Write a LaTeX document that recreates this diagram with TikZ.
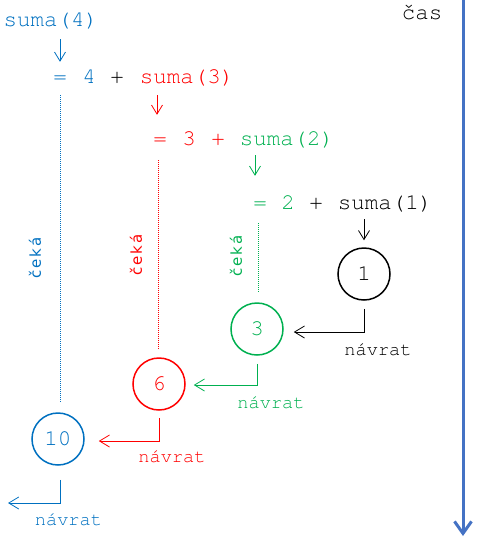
\documentclass[tikz,border=0pt]{standalone}
\usepackage{fontspec}
\newfontfamily\cour{texgyrecursor-regular.otf}
\newfontfamily\ceka{DejaVu Sans}[LetterSpace=12]
\usetikzlibrary{arrows.meta}
\definecolor{cblue}{HTML}{0070C0}
\definecolor{cred}{HTML}{FF0000}
\definecolor{cgreen}{HTML}{00B050}
\definecolor{taxis}{HTML}{4472C4}
\begin{document}
\begin{tikzpicture}[x=1pt,y=-1pt,
  code/.style={font=\cour\fontsize{22.5}{26}\selectfont, anchor=base, inner sep=0pt, text height=16pt, text depth=4pt},
  ret/.style={font=\cour\fontsize{18.7}{22}\selectfont, anchor=base, inner sep=0pt},
  num/.style={circle, draw, line width=1.5pt, minimum size=52pt, inner sep=0pt, font=\cour\fontsize{22.5}{26}\selectfont},
  wait/.style={font=\ceka\fontsize{15}{17}\selectfont, rotate=90, inner sep=0pt},
  call/.style={-{Straight Barb[length=9pt,width=11pt]}, line width=0.8pt},
  back/.style={-{Straight Barb[length=10pt,width=12pt]}, line width=0.8pt},
  waitline/.style={line width=0.8pt, dash pattern=on 1pt off 1pt},
]
\useasboundingbox (0,0) rectangle (482,542);
% time axis
\coordinate (t0) at (463,0);
\coordinate (t1) at (463,536);
\draw[taxis, line width=3pt, -{Straight Barb[length=12pt,width=17pt]}] (t0) -- (t1);
\node[code] (cas) at (422,19) {čas};
% expressions
\node[code, cblue] (s4) at (51,26) {suma(4)};
\node[code, cblue] (e2) at (60,83) {=};
\node[code, cblue] (n4) at (89,83) {4};
\node[code] (p2) at (117,83) {+};
\node[code, cred] (s3) at (187,83) {suma(3)};
\node[code, cred] (e3) at (160,145) {=};
\node[code, cred] (n3) at (189,145) {3};
\node[code, cred] (p3) at (218,145) {+};
\node[code, cgreen] (s2) at (287,145) {suma(2)};
\node[code, cgreen] (e4) at (260,209) {=};
\node[code, cgreen] (n2) at (288,209) {2};
\node[code] (p4) at (316,209) {+};
\node[code] (s1) at (385,209) {suma(1)};
% results
\node[num, black] (c1) at (364,274) {1};
\node[num, cgreen] (c3) at (257,329) {3};
\node[num, cred] (c6) at (159,384) {6};
\node[num, cblue] (c10) at (58,439) {10};
% call arrows
\draw[call, cblue] ([yshift=-9pt]e2 |- s4.south) -- ([yshift=5pt]e2.north);
\draw[call, cred] ([xshift=-3pt,yshift=-8pt]e3 |- s3.south) -- ([xshift=-3pt,yshift=14pt]e3.north);
\draw[call, cgreen] ([xshift=-5pt,yshift=-6pt]e4 |- s2.south) -- ([xshift=-5pt,yshift=17pt]e4.north);
\draw[call, black] ([yshift=-6pt]c1 |- s1.south) -- ([yshift=7pt]c1.north);
% waiting lines
\draw[waitline, cblue] ([yshift=-8pt]e2.south) -- ([yshift=10pt]e2 |- c10.north);
\draw[waitline, cred] ([xshift=-1pt,yshift=-11pt]c6 |- e3.south) -- ([xshift=-1pt,yshift=9pt]c6.north);
\draw[waitline, cgreen] ([xshift=1pt,yshift=-10pt]c3 |- e4.south) -- ([xshift=1pt,yshift=10pt]c3.north);
\node[wait, cblue] (w1) at (35,258) {čeká};
\node[wait, cred] (w2) at (136,255) {čeká};
\node[wait, cgreen] (w3) at (236,256) {čeká};
% return arrows
\draw[back, black] ([yshift=-8pt]c1.south) |- ([xshift=10pt,yshift=-3pt]c3.east);
\node[ret] (r1) at (378,355) {návrat};
\draw[back, cgreen] ([yshift=-8pt]c3.south) |- ([xshift=8pt,yshift=-1pt]c6.east);
\node[ret, cgreen] (r3) at (271,408) {návrat};
\draw[back, cred] ([yshift=-7pt]c6.south) |- ([xshift=14pt,yshift=-2pt]c10.east);
\node[ret, cred] (r6) at (172,462) {návrat};
\coordinate (out) at (8,503);
\draw[back, cblue] ([xshift=2pt,yshift=-14pt]c10.south) |- (out);
\node[ret, cblue] (r10) at (68.5,525) {návrat};
\end{tikzpicture}
\end{document}
